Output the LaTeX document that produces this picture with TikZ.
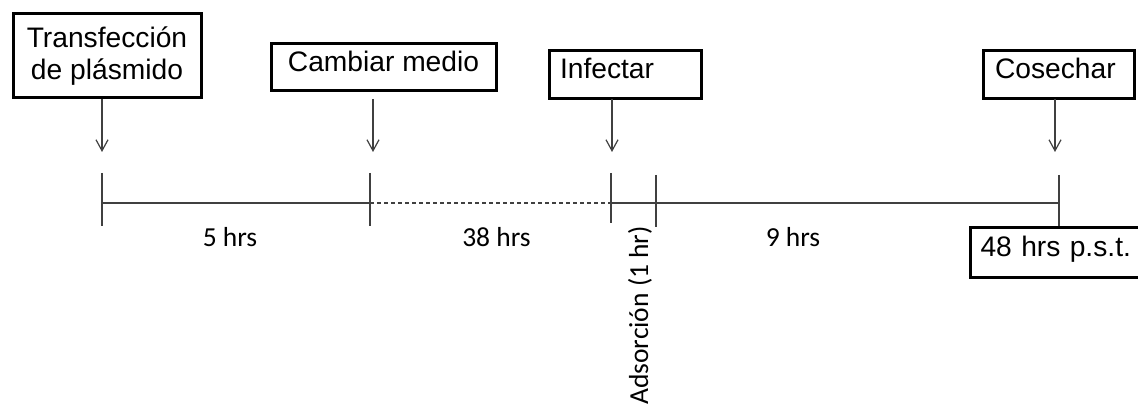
\documentclass[tikz,border=0pt]{standalone}
\usepackage{fontspec}
\setmainfont{Liberation Sans}
\newfontfamily\calib{Carlito}
\usetikzlibrary{arrows.meta}
\definecolor{linegray}{HTML}{404040}
\tikzset{
  box/.style={draw=black, line width=3pt, rectangle, inner ysep=0pt,
    font=\fontsize{28.2}{32}\selectfont},
  oneline/.style={text height=0.72em, text depth=0pt},
  arr/.style={draw=linegray, line width=1.2pt,
    -{Straight Barb[length=11pt,width=12pt]}},
  tline/.style={draw=linegray, line width=1.5pt},
  tick/.style={draw=linegray, line width=1.5pt},
  dur/.style={font=\calib\fontsize{27.5}{32}\selectfont, anchor=base, inner sep=0pt},
}
\begin{document}
\begin{tikzpicture}[x=1pt, y=-1pt]
\useasboundingbox (0,0) rectangle (1138,414);
\clip (0,0) rectangle (1138,414);

% boxes
\node[box, minimum width=188pt, minimum height=84pt, align=center, inner xsep=0pt]
  (b1) at (107,56) {Transfección\\de plásmido};
\node[box, oneline, minimum width=225pt, minimum height=47pt, inner xsep=0pt]
  (b2) at (383.5,67.5) {Cambiar medio};
\node[box, oneline, minimum height=48pt, text width=130pt, align=left, inner xsep=11pt]
  (b3) at (625,75) {Infectar};
\node[box, oneline, minimum height=48pt, text width=127pt, align=left, inner xsep=12pt]
  (b4) at (1058.5,75) {Cosechar};
\node[box, oneline, anchor=west, minimum height=49pt, text width=170pt, align=left, inner xsep=10pt]
  (b5) at (969,252.5) {48 hrs p.s.t.};

% arrow coordinates
\coordinate (s1) at (102,99);
\coordinate (s2) at (373,99);
\coordinate (s3) at (612,99);
\coordinate (s4) at (1055,99);
\coordinate (a1) at (102,152);
\coordinate (a2) at (373,152);
\coordinate (a3) at (612,152);
\coordinate (a4) at (1055,152);
\draw[arr] (s1) -- (a1);
\draw[arr] (s2) -- (a2);
\draw[arr] (s3) -- (a3);
\draw[arr] (s4) -- (a4);

% timeline
\coordinate (T1) at (102,203);
\coordinate (T2) at (370,203);
\coordinate (T3) at (611,203);
\coordinate (T4) at (656,203);
\coordinate (T5) at (1059,203);
\draw[tline] (T1) -- (T2);
\draw[tline, dash pattern=on 4pt off 3pt] (T2) -- (T3);
\draw[tline] (T3) -- (T5);
\draw[tick] ([yshift=30pt]T1) -- ([yshift=-23pt]T1);
\draw[tick] ([yshift=30pt]T2) -- ([yshift=-23pt]T2);
\draw[tick] ([yshift=30pt]T3) -- ([yshift=-20pt]T3);
\draw[tick] ([yshift=28pt]T4) -- ([yshift=-24pt]T4);
\draw[tick] ([yshift=28pt]T5) -- (b5.north -| T5);

% durations
\node[dur] (d1) at (230,247) {5 hrs};
\node[dur] (d2) at (496.5,247) {38 hrs};
\node[dur] (d3) at (793,247) {9 hrs};
\node[dur, rotate=90, anchor=base west] (d4) at (648,405) {Adsorción (1 hr)};
\end{tikzpicture}
\end{document}
